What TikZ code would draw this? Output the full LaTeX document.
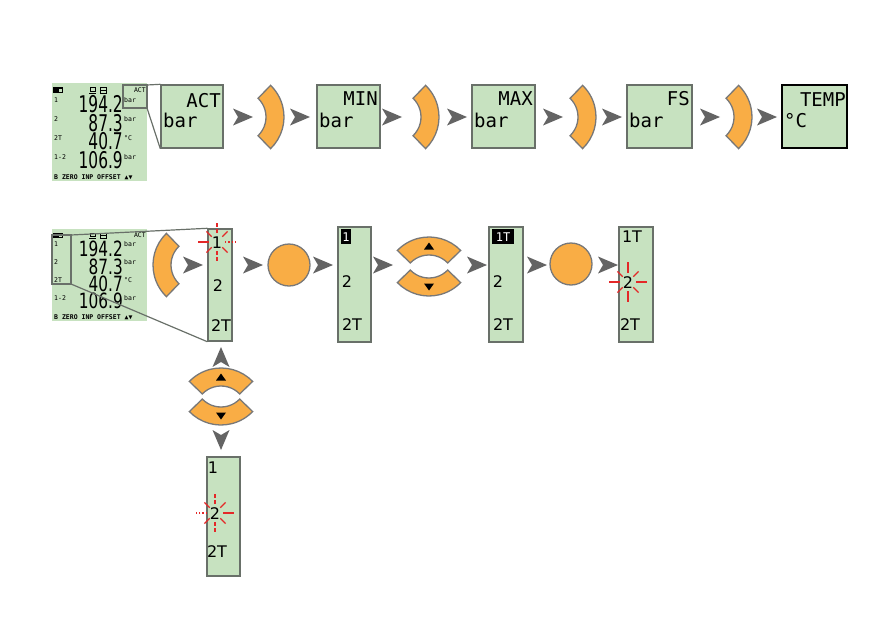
\documentclass[tikz,border=0pt]{standalone}
\usepackage{fontspec}
\setmainfont{DejaVu Sans}
\newfontfamily\lcdmono{DejaVu Sans Mono}
\newfontfamily\lcdsans{DejaVu Sans}
\definecolor{lcdgreen}{RGB}{199,226,192}
\definecolor{btnorange}{RGB}{249,173,69}
\definecolor{btnedge}{RGB}{120,120,120}
\definecolor{arrgray}{RGB}{100,100,100}
\definecolor{boxedge}{RGB}{105,112,105}
\definecolor{rayred}{RGB}{228,40,40}
\tikzset{
  lcdbox/.style={draw=boxedge, line width=1.4pt, fill=lcdgreen, inner sep=0pt},
  tallbox/.style={draw=boxedge, line width=1.4pt, fill=lcdgreen, inner sep=0pt},
  btn/.style={fill=btnorange, draw=btnedge, line width=1.3pt},
  zoomline/.style={draw=boxedge, line width=1.2pt},
  ray/.style={draw=rayred, line width=1.3pt},
  boxtxt/.style={inner sep=0pt, font=\lcdmono\fontsize{19}{19}\selectfont},
  talltxt/.style={inner sep=0pt, anchor=base, font=\lcdsans\fontsize{16}{16}\selectfont},
  tiny/.style={inner sep=0pt, font=\lcdmono\fontsize{6.5}{6.5}\selectfont},
  arcbtn/.pic={\filldraw[btn] (-46:26) arc[start angle=-46,end angle=46,radius=26] -- (46:44) arc[start angle=46,end angle=-46,radius=44] -- cycle;},
  tri/.pic={\fill[black] (38.5,0) -- (31.5,-5) -- (31.5,5) -- cycle;},
  chev/.pic={\fill[arrgray] (0,0) -- (-20,-8.5) -- (-15,0) -- (-20,8.5) -- cycle;}
}
\newcommand\bigdig[3]{\scalebox{#2}[1]{\lcdsans\fontsize{#1}{#1}\selectfont #3}}
\newcommand\lcdpanel[5]{%
\begin{scope}[shift={(52,#2)}, yscale=#3]
  \fill[lcdgreen] (0,0) rectangle (95,98);
  \fill[black] (1,4) rectangle (11,10);
  \fill[lcdgreen] (7,5.5) rectangle (9.5,8.5);
  \draw[black, line width=0.8pt] (38,4.5) rectangle (43,8) (37,10) -- (44,10);
  \draw[black, line width=0.8pt] (48,4.5) rectangle (54,10) (48,7) -- (54,7);
  \node[tiny, anchor=base east] (#1act) at (94,9) {ACT};
  \node[tiny, anchor=base west] (#1l1) at (2,19) {1};
  \node[tiny, anchor=base west] (#1l2) at (2,38) {2};
  \node[tiny, anchor=base west] (#1l3) at (2,57) {2T};
  \node[tiny, anchor=base west] (#1l4) at (2,76) {1-2};
  \node[inner sep=0pt, anchor=base east] (#1d1) at (71,29.5) {\bigdig{#4}{#5}{194.2}};
  \node[inner sep=0pt, anchor=base east] (#1d2) at (71,48) {\bigdig{#4}{#5}{87.3}};
  \node[inner sep=0pt, anchor=base east] (#1d3) at (71,66.5) {\bigdig{#4}{#5}{40.7}};
  \node[inner sep=0pt, anchor=base east] (#1d4) at (71,85) {\bigdig{#4}{#5}{106.9}};
  \node[tiny, anchor=base west] (#1u1) at (72,19) {bar};
  \node[tiny, anchor=base west] (#1u2) at (72,38) {bar};
  \node[tiny, anchor=base west] (#1u3) at (72,57) {°C};
  \node[tiny, anchor=base west] (#1u4) at (72,76) {bar};
  \node[tiny, anchor=base west] (#1bot) at (2,96) {\bfseries B ZERO INP OFFSET ▲▼};
\end{scope}}
\newcommand\blink[5]{%
\begin{scope}[shift={(#1,#2)}]
  \foreach \a in {45,135,225,315}{\draw[ray] (\a:7.5) -- (\a:15);}
  \draw[ray,#3] (8,0) -- (19,0);
  \draw[ray,#4] (-8,0) -- (-19,0);
  \draw[ray,#5] (0,-9) -- (0,-20) (0,9) -- (0,20);
\end{scope}}
\begin{document}
\begin{tikzpicture}[x=1pt,y=-1pt]
\useasboundingbox (0,0) rectangle (893,629);
% ---------- top row ----------
\lcdpanel{ta}{83}{1}{23}{0.67}
\coordinate (ia) at (123,85);
\coordinate (ib) at (147,85);
\coordinate (ic) at (147,108);
\draw[zoomline] (ia) rectangle (ic);
\node[lcdbox, minimum width=62pt, minimum height=63pt] (bact) at (192,116.5) {};
\draw[zoomline] (ib) -- (bact.north west);
\draw[zoomline] (ic) -- (bact.south west);
\node[boxtxt, anchor=base east] (tact) at (221,107) {ACT};
\node[boxtxt, anchor=base west] (bact2) at (163,127) {bar};

\node[lcdbox, minimum width=63pt, minimum height=63pt] (bmin) at (348.5,116.5) {};
\node[boxtxt, anchor=base east] (tmin) at (378,105) {MIN};
\node[boxtxt, anchor=base west] (umin) at (319,127) {bar};

\node[lcdbox, minimum width=63pt, minimum height=63pt] (bmax) at (503.5,116.5) {};
\node[boxtxt, anchor=base east] (tmax) at (533,105) {MAX};
\node[boxtxt, anchor=base west] (umax) at (474,127) {bar};

\node[lcdbox, minimum width=65pt, minimum height=63pt] (bfs) at (659.5,116.5) {};
\node[boxtxt, anchor=base east] (tfs) at (690,105) {FS};
\node[boxtxt, anchor=base west] (ufs) at (629,127) {bar};

\node[lcdbox, draw=black, minimum width=65pt, minimum height=63pt] (btemp) at (814.5,116.5) {};
\node[boxtxt, anchor=base east] (ttemp) at (846,106) {TEMP};
\node[boxtxt, anchor=base west] (utemp) at (784,127) {°C};

\foreach \x in {253,310,402,467,563,622,720,777}{\pic at (\x,117) {chev};}
\foreach \x in {240,395,552,708}{\pic at (\x,117) {arcbtn};}

% ---------- bottom row ----------
\lcdpanel{ba}{229}{0.94}{21}{0.73}
\coordinate (ja) at (52,235);
\coordinate (jb) at (71,235);
\coordinate (jc) at (71,284);
\draw[zoomline] (ja) rectangle (jc);
\node[tallbox, minimum width=24pt, minimum height=112pt] (t1) at (220,285) {};
\draw[zoomline] (jb) -- (t1.north west);
\draw[zoomline] (jc) -- (t1.south west);
\node[talltxt] (t1a) at (217,248) {1};
\node[talltxt] (t1b) at (218,291) {2};
\node[talltxt] (t1c) at (221,331) {2T};
\blink{217}{242}{dotted}{solid}{dash pattern=on 4pt off 2pt}

\pic[rotate=180] at (197,265) {arcbtn};
\node[circle, btn, minimum size=42pt, inner sep=0pt] (c1) at (289,265) {};
\node[circle, btn, minimum size=42pt, inner sep=0pt] (c2) at (571,264) {};

\node[tallbox, minimum width=33pt, minimum height=115pt] (t2) at (354.5,284.5) {};
\fill[black] (341,229) rectangle (351,244);
\node[talltxt, text=white, font=\lcdmono\fontsize{12}{12}\selectfont] (t2a) at (346,241) {1};
\node[talltxt] (t2b) at (347,287) {2};
\node[talltxt] (t2c) at (352,330) {2T};

\pic[rotate=90] at (429,281) {arcbtn};
\pic[rotate=90] at (429,281) {tri};
\pic[rotate=-90] at (429,252) {arcbtn};
\pic[rotate=-90] at (429,252) {tri};

\node[tallbox, minimum width=34pt, minimum height=115pt] (t3) at (506,284.5) {};
\fill[black] (492,229) rectangle (514,244);
\node[talltxt, text=white, font=\lcdmono\fontsize{12}{12}\selectfont] (t3a) at (503,241) {1T};
\node[talltxt] (t3b) at (498,287) {2};
\node[talltxt] (t3c) at (503,330) {2T};

\node[tallbox, minimum width=34pt, minimum height=115pt] (t4) at (636,284.5) {};
\node[talltxt] (t4a) at (632,242) {1T};
\node[talltxt] (t4b) at (628,288) {2};
\node[talltxt] (t4c) at (630,330) {2T};
\blink{628}{282}{solid}{solid}{solid}

\foreach \x in {203,263,333,393,487,547,618}{\pic at (\x,265) {chev};}

% ---------- vertical column ----------
\pic[rotate=90] at (221,347) {chev};
\pic[rotate=90] at (221,412) {arcbtn};
\pic[rotate=90] at (221,412) {tri};
\pic[rotate=-90] at (221,381) {arcbtn};
\pic[rotate=-90] at (221,381) {tri};
\pic[rotate=-90] at (221,450) {chev};

\node[tallbox, minimum width=33pt, minimum height=119pt] (t5) at (223.5,516.5) {};
\node[talltxt] (t5a) at (213,473) {1};
\node[talltxt] (t5b) at (215,519) {2};
\node[talltxt] (t5c) at (217,557) {2T};
\blink{215}{513}{solid}{dotted}{dash pattern=on 4pt off 2pt}
\end{tikzpicture}
\end{document}
